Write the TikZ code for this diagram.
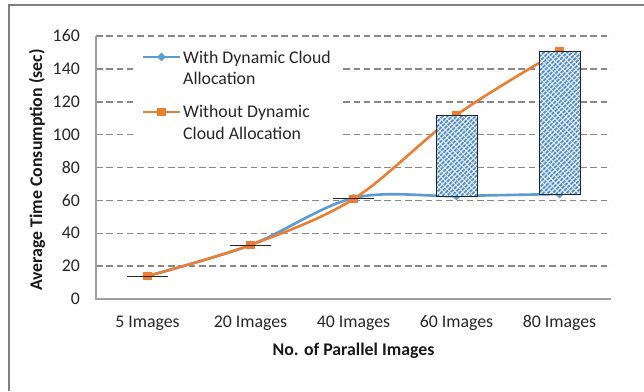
\documentclass[tikz,border=0pt]{standalone}
\usepackage{fontspec}
\setmainfont{Carlito}
\usetikzlibrary{patterns.meta,shapes.geometric}
\definecolor{bl}{HTML}{5B9BD5}
\definecolor{orn}{HTML}{ED7D31}
\definecolor{grd}{HTML}{888888}
\definecolor{frm}{HTML}{7F7F7F}
\definecolor{lbl}{HTML}{D6E5F5}
\definecolor{hatch}{HTML}{4A88CC}
\tikzset{
  grid/.style={grd, line width=1.5pt, dash pattern=on 6.5pt off 3.8pt},
  axis/.style={grd!80, line width=1.2pt},
  serB/.style={bl, line width=2.6pt, line cap=round},
  serO/.style={orn, line width=2.6pt, line cap=round},
  msq/.style={rectangle, fill=orn, inner sep=0pt, minimum size=8.5pt},
  mdia/.style={diamond, fill=bl, inner sep=0pt, minimum size=9pt},
  updown/.style={draw=black!85, line width=1pt},
  hatchfill/.style={pattern={Lines[angle=45,distance=3.3pt,line width=1.6pt]}, pattern color=hatch},
  hatchcross/.style={pattern={Lines[angle=-45,distance=4.5pt,line width=0.7pt]}, pattern color=white},
  lab/.style={inner sep=0pt, text=black!85},
  bold/.style={inner sep=0pt, font=\fontsize{17.8}{21}\selectfont\bfseries, text=black!90}
}
\begin{document}
\begin{tikzpicture}[x=1pt,y=-1pt,font=\fontsize{17.8}{21.5}\selectfont]
\useasboundingbox (0,0) rectangle (644,391);
\fill[white] (0,0) rectangle (644,391);
% outer frame
\draw[frm, line width=1.5pt] (9,391) -- (9,5) -- (644,5);
% gridlines
\foreach \yy in {266.1,233.25,200.4,167.5,134.6,101.75,68.9,36} {
  \draw[grid] (96,\yy) -- (611,\yy);
}
% axes
\draw[axis] (96,36) -- (96,299) -- (611,299);
% y tick labels
\foreach \v/\yy in {0/299,20/266.1,40/233.25,60/200.4,80/167.5,100/134.6,120/101.75,140/68.9,160/36} {
  \node[lab, anchor=east] (yt\v) at (80,\yy) {\v};
}
% x tick labels
\node[lab] (xt1) at (147.5,323) {5 Images};
\node[lab] (xt2) at (250.5,323) {20 Images};
\node[lab] (xt3) at (353.5,323) {40 Images};
\node[lab] (xt4) at (456.5,323) {60 Images};
\node[lab] (xt5) at (559.5,323) {80 Images};
% axis titles
\node[bold] (xtitle) at (353.5,351) {No. of Parallel Images};
\node[bold, rotate=90] (ytitle) at (37,170) {Average Time Consumption (sec)};
% legend
\fill[white] (137,43) rectangle (340,160);
\coordinate (lbA) at (143,57);
\coordinate (lbB) at (180,57);
\coordinate (loA) at (143,112);
\coordinate (loB) at (180,112);
\draw[serB, line cap=butt] (lbA) -- (lbB);
\node[mdia] (lbm) at (161.5,57) {};
\draw[serO, line cap=butt] (loA) -- (loB);
\node[msq] (lom) at (161.5,112) {};
\node[lab, anchor=west, align=left] (lgB) at (183,68) {With Dynamic Cloud\\Allocation};
\node[lab, anchor=west, align=left] (lgO) at (183,122.5) {Without Dynamic\\Cloud Allocation};
% data points
\coordinate (b1) at (147.5,276);
\coordinate (b2) at (250.5,245);
\coordinate (b3) at (353.5,198);
\coordinate (b4) at (456.5,196);
\coordinate (b5) at (559.5,194);
\coordinate (o1) at (147.5,276);
\coordinate (o2) at (250.5,245);
\coordinate (o3) at (353.5,199);
\coordinate (o4) at (456.5,115);
\coordinate (o5) at (559.5,51);
% series
\draw[serB] plot[smooth, tension=0.55] coordinates {(b1) (b2) (b3) (b4) (b5)};
\draw[serO] plot[smooth, tension=0.55] coordinates {(o1) (o2) (o3) (o4) (o5)};
\foreach \i in {1,...,5} {
  \node[mdia] (bm\i) at (b\i) {};
}
\foreach \i in {1,...,5} {
  \node[msq] (om\i) at (o\i) {};
}
% up-down bars
\foreach \xx/\yt/\yb in {456.5/115/196, 559.5/51/194} {
  \fill[lbl] (\xx-20.5,\yt) rectangle (\xx+20.5,\yb);
  \fill[hatchfill] (\xx-20.5,\yt) rectangle (\xx+20.5,\yb);
  \fill[hatchcross] (\xx-20.5,\yt) rectangle (\xx+20.5,\yb);
  \draw[updown] (\xx-20.5,\yt) rectangle (\xx+20.5,\yb);
}
\foreach \xx/\yy in {147.5/276, 250.5/245, 353.5/198.5} {
  \draw[updown] (\xx-20.5,\yy) -- (\xx+20.5,\yy);
}
\end{tikzpicture}
\end{document}
